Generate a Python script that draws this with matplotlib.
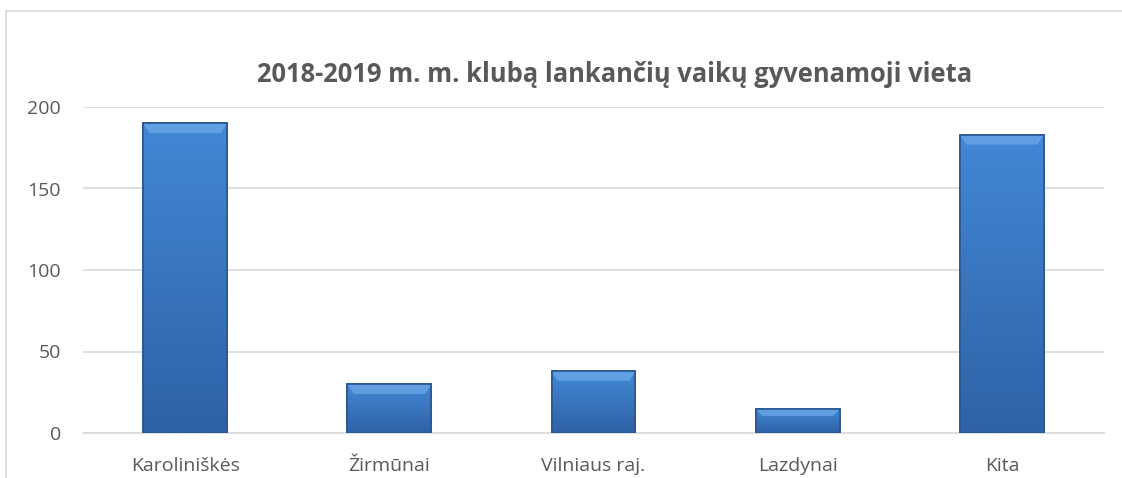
import matplotlib
matplotlib.use("Agg")
import matplotlib.pyplot as plt
import numpy as np
from matplotlib.lines import Line2D
from matplotlib.colors import LinearSegmentedColormap

categories = ["Karoliniškės", "Žirmūnai", "Vilniaus raj.", "Lazdynai", "Kita"]
values = [190, 30, 38, 15, 183]
yticks = [0, 50, 100, 150, 200]
title = "2018-2019 m. m. klubą lankančių vaikų gyvenamoji vieta"

plt.rcParams['font.family'] = ['Open Sans', 'DejaVu Sans']

W, H = 1122, 478
fig = plt.figure(figsize=(W / 100, H / 100), dpi=100)
fig.patch.set_facecolor('white')

left, right = 83 / W, 1104 / W
bottom, top = 1 - 433 / H, 1 - 107 / H
ax = fig.add_axes([left, bottom, right - left, top - bottom])
ax.set_facecolor('white')

x = np.arange(len(categories))
bars = ax.bar(x, values, width=0.41, color='#3b7bc8', edgecolor='#2a5690',
              linewidth=1.2, zorder=3)

grad = np.linspace(0, 1, 256).reshape(-1, 1)
cmap = LinearSegmentedColormap.from_list('b', ['#2f62a5', '#4288d6'])
for b in bars:
    bx, by = b.get_x(), b.get_y()
    bw, bh = b.get_width(), b.get_height()
    im = ax.imshow(grad, extent=[bx, bx + bw, by, by + bh], origin='lower',
                   cmap=cmap, aspect='auto', zorder=3.5)
    im.set_clip_path(b)
    hb = min(6, bh * 0.3)
    ax.fill([bx, bx + bw, bx + bw - 0.03, bx + 0.03],
            [by + bh, by + bh, by + bh - hb, by + bh - hb],
            color='#6aa6e6', alpha=0.8, zorder=3.6, linewidth=0)
    ax.bar(bx + bw / 2, bh, width=bw, bottom=by, fill=False,
           edgecolor='#2a5690', linewidth=1.2, zorder=3.7)

ax.set_xlim(-0.5, len(categories) - 0.5)
ax.set_ylim(0, 200)
ax.set_yticks(yticks)
ax.set_xticks(x)
ax.set_xticklabels(categories)
ax.grid(axis='y', color='#d9d9d9', linewidth=1.2, zorder=0)
ax.set_axisbelow(True)
for s in ['top', 'right', 'left']:
    ax.spines[s].set_visible(False)
ax.spines['bottom'].set_color('#d9d9d9')
ax.spines['bottom'].set_linewidth(1.2)
ax.tick_params(axis='both', length=0, labelsize=14, colors='#595959')
ax.tick_params(axis='x', pad=17)
ax.tick_params(axis='y', pad=16)

fig.text(615 / W, 1 - 75 / H, title, ha='center', va='center',
         fontsize=18.4, fontweight='bold', color='#595959')

fig.add_artist(Line2D([6 / W, 1.0], [1 - 11 / H, 1 - 11 / H],
                      color='#d9d9d9', linewidth=1.2))
fig.add_artist(Line2D([6 / W, 6 / W], [0, 1 - 11 / H],
                      color='#d9d9d9', linewidth=1.2))

fig.savefig('out.png', dpi=100, facecolor='white')
